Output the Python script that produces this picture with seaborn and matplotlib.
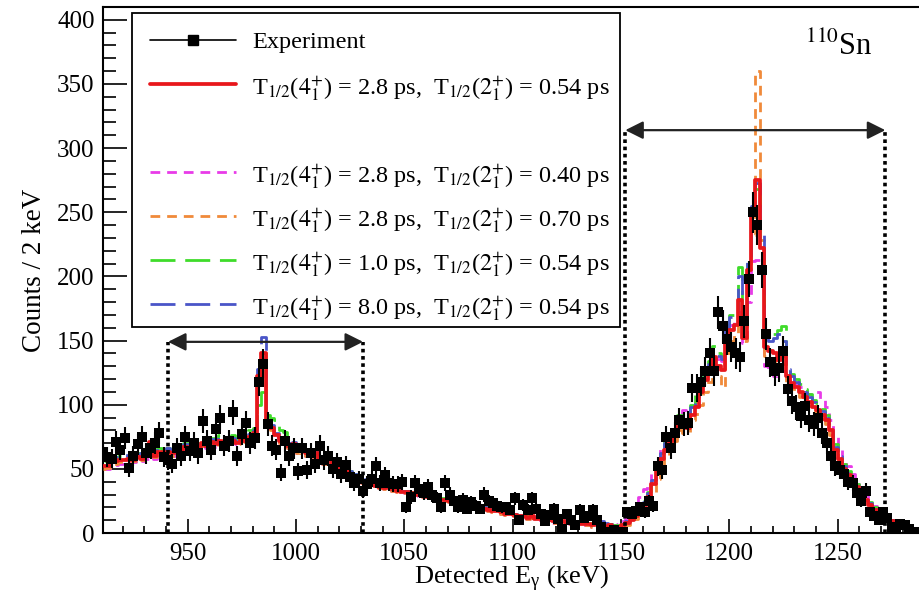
import numpy as np
import pandas as pd
import matplotlib
matplotlib.use("Agg")
import matplotlib.pyplot as plt
import seaborn as sns
from matplotlib.lines import Line2D
from matplotlib.patches import Rectangle

# ---------------- data (2 keV bins, first bin starts at 910 keV) ----------------
bin_start = 910
bin_width = 2

experiment = [
    63, 59, 58, 71, 65, 74, 51, 60, 69, 75,
    62, 66, 70, 78, 59, 57, 54, 66, 60, 75,
    64, 70, 62, 87, 72, 65, 81, 90, 68, 72,
    94, 60, 77, 86, 70, 74, 118, 132, 85, 68,
    65, 47, 72, 60, 66, 48, 66, 49, 62, 54,
    68, 57, 60, 50, 55, 46, 53, 44, 39, 42,
    33, 38, 42, 52, 39, 45, 39, 38, 38, 40,
    20, 28, 39, 34, 31, 36, 30, 27, 20, 39,
    30, 25, 20, 26, 19, 24, 21, 19, 30, 25,
    23, 21, 20, 20, 18, 27, 10, 22, 18, 27,
    19, 15, 9, 14, 19, 11, 3, 15, 10, 6,
    18, 12, 13, 18, 10, 5, 1, 1, 2, 1,
    1, 16, 15, 17, 20, 16, 25, 21, 52, 49,
    75, 66, 78, 88, 85, 86, 113, 113, 118, 126,
    140, 126, 172, 161, 151, 145, 140, 137, 165, 198,
    250, 240, 205, 155, 133, 126, 129, 142, 112, 103,
    98, 91, 99, 88, 85, 90, 78, 70, 60, 52,
    49, 46, 40, 39, 31, 25, 33, 16, 13, 10,
    16, 12, 4, 5, 7, 6, 3, 1, 1,
]

sim_28_054 = [
    52, 52, 55, 56, 57, 57, 58, 57, 59, 58,
    60, 71, 60, 63, 58, 63, 62, 66, 64, 67,
    66, 68, 67, 70, 68, 71, 69, 72, 70, 71,
    72, 70, 73, 72, 75, 78, 122, 140, 86, 82,
    76, 72, 74, 68, 69, 64, 66, 62, 60, 62,
    57, 56, 58, 52, 53, 49, 50, 46, 44, 42,
    40, 38, 39, 37, 36, 35, 36, 34, 33, 32,
    32, 31, 30, 31, 29, 28, 28, 27, 26, 26,
    25, 24, 23, 22, 22, 21, 20, 20, 19, 18,
    17, 17, 16, 15, 15, 14, 13, 13, 12, 13,
    11, 11, 10, 10, 9, 9, 9, 8, 8, 8,
    7, 7, 7, 6, 7, 6, 5, 6, 5, 5,
    6, 8, 10, 13, 17, 22, 28, 38, 49, 58,
    65, 72, 76, 86, 83, 82, 92, 98, 110, 119,
    125, 137, 130, 127, 150, 158, 162, 182, 152, 205,
    248, 275, 222, 145, 142, 140, 135, 138, 122, 117,
    114, 110, 106, 102, 98, 96, 92, 88, 80, 65,
    58, 50, 45, 40, 36, 31, 26, 22, 18, 15,
    13, 11, 9, 8, 6, 5, 4, 3, 2,
]

sim_28_040 = [
    50, 50, 52, 53, 54, 55, 56, 55, 57, 56,
    58, 66, 58, 61, 57, 61, 60, 64, 62, 65,
    64, 66, 65, 68, 66, 69, 67, 70, 68, 70,
    71, 69, 72, 72, 74, 77, 118, 136, 80, 82,
    75, 70, 72, 66, 67, 62, 64, 60, 58, 60,
    55, 54, 56, 50, 51, 47, 48, 45, 43, 41,
    39, 37, 38, 36, 35, 34, 35, 33, 32, 31,
    31, 30, 29, 30, 28, 27, 27, 26, 25, 25,
    24, 23, 22, 21, 21, 20, 19, 19, 18, 17,
    16, 16, 15, 14, 14, 13, 12, 12, 11, 12,
    10, 10, 9, 9, 8, 8, 8, 7, 7, 7,
    6, 6, 6, 5, 6, 5, 5, 6, 6, 7,
    9, 12, 16, 21, 28, 34, 40, 48, 58, 66,
    72, 78, 84, 92, 96, 90, 98, 105, 115, 124,
    130, 140, 136, 134, 152, 162, 165, 172, 148, 180,
    212, 213, 205, 130, 125, 122, 128, 126, 120, 117,
    116, 114, 110, 108, 109, 110, 104, 98, 88, 76,
    68, 58, 52, 46, 41, 36, 31, 26, 21, 17,
    14, 12, 10, 8, 7, 5, 4, 3, 2,
]

sim_28_070 = [
    50, 51, 53, 54, 55, 56, 57, 56, 58, 57,
    59, 68, 59, 62, 57, 61, 60, 64, 62, 65,
    64, 66, 65, 68, 66, 69, 67, 70, 68, 70,
    71, 69, 72, 71, 74, 77, 120, 140, 82, 80,
    74, 70, 72, 66, 67, 62, 64, 60, 58, 60,
    55, 54, 56, 50, 52, 48, 49, 45, 43, 41,
    39, 37, 38, 36, 35, 34, 35, 33, 32, 31,
    31, 30, 29, 30, 28, 27, 27, 26, 25, 25,
    24, 23, 22, 21, 21, 20, 19, 19, 18, 17,
    16, 16, 15, 14, 14, 13, 12, 12, 11, 12,
    10, 10, 9, 9, 8, 8, 8, 7, 7, 7,
    6, 6, 6, 5, 6, 5, 5, 6, 5, 5,
    5, 6, 8, 11, 14, 19, 24, 32, 42, 52,
    60, 66, 72, 80, 78, 78, 88, 93, 100, 110,
    118, 128, 122, 114, 140, 150, 155, 170, 150, 205,
    232, 360, 228, 138, 135, 134, 130, 132, 118, 113,
    110, 106, 102, 99, 95, 93, 89, 85, 76, 62,
    55, 47, 42, 37, 33, 28, 24, 20, 16, 13,
    11, 9, 8, 6, 5, 4, 3, 2, 2,
]

sim_10_054 = [
    58, 56, 58, 59, 60, 60, 61, 60, 62, 61,
    62, 68, 63, 66, 61, 66, 65, 69, 67, 70,
    69, 71, 70, 74, 72, 74, 73, 76, 74, 75,
    76, 74, 77, 78, 80, 82, 100, 110, 92, 90,
    88, 80, 79, 72, 72, 67, 69, 64, 62, 64,
    59, 58, 60, 54, 55, 51, 52, 48, 46, 44,
    41, 39, 40, 38, 37, 36, 37, 35, 34, 33,
    33, 32, 31, 32, 30, 29, 29, 28, 27, 27,
    26, 25, 24, 23, 23, 22, 21, 21, 20, 19,
    18, 18, 17, 16, 16, 15, 14, 14, 13, 13,
    12, 12, 11, 11, 10, 10, 10, 9, 9, 9,
    8, 8, 8, 7, 8, 7, 6, 7, 6, 6,
    7, 9, 12, 15, 20, 25, 32, 42, 53, 63,
    71, 78, 82, 92, 90, 90, 100, 108, 120, 128,
    134, 146, 140, 138, 162, 170, 175, 207, 165, 210,
    250, 268, 228, 158, 152, 155, 158, 161, 130, 124,
    120, 116, 112, 108, 104, 101, 97, 92, 84, 69,
    62, 54, 48, 43, 38, 33, 28, 24, 20, 16,
    14, 12, 10, 8, 7, 5, 4, 3, 2,
]

sim_80_054 = [
    62, 58, 60, 59, 60, 61, 60, 62, 61, 62,
    63, 70, 64, 66, 62, 66, 65, 68, 67, 69,
    68, 70, 69, 73, 71, 73, 72, 75, 73, 74,
    74, 72, 75, 74, 77, 80, 128, 153, 88, 84,
    78, 74, 76, 70, 71, 66, 68, 64, 62, 63,
    59, 58, 59, 54, 55, 51, 52, 48, 46, 44,
    42, 40, 40, 38, 37, 36, 37, 35, 34, 33,
    33, 32, 31, 31, 30, 29, 29, 28, 27, 27,
    26, 25, 24, 23, 23, 22, 21, 21, 20, 19,
    18, 18, 17, 16, 16, 15, 14, 14, 13, 13,
    12, 12, 11, 11, 10, 10, 10, 9, 9, 9,
    8, 8, 8, 7, 8, 9, 8, 7, 6, 6,
    7, 9, 11, 15, 19, 24, 31, 41, 52, 62,
    70, 76, 80, 90, 88, 88, 98, 106, 118, 126,
    132, 142, 138, 136, 160, 168, 172, 200, 160, 212,
    255, 273, 234, 155, 150, 152, 155, 150, 128, 122,
    118, 114, 110, 106, 102, 99, 95, 90, 82, 67,
    60, 52, 47, 42, 37, 32, 27, 23, 19, 16,
    14, 12, 10, 8, 7, 5, 4, 3, 2,
]

model_names = ["2.8/0.54", "2.8/0.40", "2.8/0.70", "1.0/0.54", "8.0/0.54"]
model_labels = [
    r"T$_{1/2}$($4^{+}_{1}$) = 2.8 ps,  T$_{1/2}$($2^{+}_{1}$) = 0.54 ps",
    r"T$_{1/2}$($4^{+}_{1}$) = 2.8 ps,  T$_{1/2}$($2^{+}_{1}$) = 0.40 ps",
    r"T$_{1/2}$($4^{+}_{1}$) = 2.8 ps,  T$_{1/2}$($2^{+}_{1}$) = 0.70 ps",
    r"T$_{1/2}$($4^{+}_{1}$) = 1.0 ps,  T$_{1/2}$($2^{+}_{1}$) = 0.54 ps",
    r"T$_{1/2}$($4^{+}_{1}$) = 8.0 ps,  T$_{1/2}$($2^{+}_{1}$) = 0.54 ps",
]
model_values = [sim_28_054, sim_28_040, sim_28_070, sim_10_054, sim_80_054]

gate_low = (941, 1031)
gate_high = (1152, 1272)
x_ticks = [950, 1000, 1050, 1100, 1150, 1200, 1250]
y_ticks = [0, 50, 100, 150, 200, 250, 300, 350, 400]

# ---------------- tables ----------------
n_bins = len(experiment)
energy = bin_start + bin_width * (np.arange(n_bins) + 0.5)
exp_df = pd.DataFrame({"energy": energy, "counts": experiment})
sim_df = pd.concat(
    [pd.DataFrame({"energy": energy, "counts": v, "model": m})
     for m, v in zip(model_names, model_values)],
    ignore_index=True,
)

# ---------------- style ----------------
sns.set_theme(style="ticks")
plt.rcParams["font.family"] = ["Liberation Serif", "DejaVu Serif"]
plt.rcParams["mathtext.fontset"] = "stix"

colors = {
    "2.8/0.54": "#e8161b",
    "2.8/0.40": "#e83be8",
    "2.8/0.70": "#f08a3a",
    "1.0/0.54": "#3fdc2a",
    "8.0/0.54": "#4a55c8",
}
styles = {
    "2.8/0.54": "-",
    "2.8/0.40": (0, (3.5, 2.5)),
    "2.8/0.70": (0, (3.5, 2.5)),
    "1.0/0.54": (0, (9, 3.5)),
    "8.0/0.54": (0, (9, 3.5)),
}
widths = {"2.8/0.54": 2.7, "2.8/0.40": 2.0, "2.8/0.70": 2.0, "1.0/0.54": 2.0, "8.0/0.54": 2.0}

W, H = 920, 594
fig = plt.figure(figsize=(W / 100, H / 100), dpi=100)
ax_l, ax_r, ax_t, ax_b = 103, 920, 7, 533
ax = fig.add_axes([ax_l / W, 1 - ax_b / H, (ax_r - ax_l) / W, (ax_b - ax_t) / H])

draw_order = ["2.8/0.40", "2.8/0.70", "1.0/0.54", "8.0/0.54", "2.8/0.54"]
for z, m in enumerate(draw_order):
    sub = sim_df[sim_df["model"] == m]
    sns.lineplot(data=sub, x="energy", y="counts", ax=ax, color=colors[m],
                 linestyle=styles[m], linewidth=widths[m], drawstyle="steps-mid",
                 estimator=None, sort=False, zorder=2 + z)

ax.errorbar(exp_df["energy"], exp_df["counts"], yerr=np.sqrt(exp_df["counts"]),
            fmt="none", ecolor="black", elinewidth=1.5, capsize=0, zorder=10)
sns.scatterplot(data=exp_df, x="energy", y="counts", ax=ax, marker="s", s=55,
                color="black", edgecolor="black", linewidth=0, zorder=11)

# gates
arrow_y = {gate_low: 149, gate_high: 314}
for g in (gate_low, gate_high):
    yv = arrow_y[g]
    for xv in g:
        ax.plot([xv, xv], [0, yv], color="black", linestyle=(0, (1, 1)), linewidth=2.6, zorder=12)
    ax.annotate("", xy=(g[0], yv), xytext=(g[1], yv),
                arrowprops=dict(arrowstyle="<|-|>", color="#222222", lw=1.6,
                                mutation_scale=27, shrinkA=0, shrinkB=0),
                zorder=12)

# axes
ax.set_xlim(911, 1288)
ax.set_ylim(0, 410)
ax.set_xticks(x_ticks)
ax.set_yticks(y_ticks)
ax.set_xticks(np.arange(920, 1290, 10), minor=True)
ax.set_yticks(np.arange(0, 410, 10), minor=True)
ax.tick_params(axis="both", which="both", direction="in", colors="black", labelsize=18, width=1.2)
ax.tick_params(axis="y", which="major", length=17, pad=6)
ax.tick_params(axis="y", which="minor", length=9)
ax.tick_params(axis="x", which="major", length=10, pad=7)
ax.tick_params(axis="x", which="minor", length=5)
for s in ["left", "bottom", "top"]:
    ax.spines[s].set_color("black")
    ax.spines[s].set_linewidth(1.5)
ax.spines["right"].set_visible(False)
ax.set_xlabel(r"Detected E$_{\mathregular{γ}}$ (keV)", fontsize=19, labelpad=-0.5, color="black")
ax.set_ylabel("Counts / 2 keV", fontsize=19.5, labelpad=7, color="black")
ax.grid(False)

# legend (drawn manually to match the original box)
def ax_xy(px, py):
    return (px - ax_l) / (ax_r - ax_l), (ax_b - py) / (ax_b - ax_t)

bx0, by0 = ax_xy(132, 327)
bx1, by1 = ax_xy(620, 13)
ax.add_patch(Rectangle((bx0, by0), bx1 - bx0, by1 - by0, transform=ax.transAxes,
                       facecolor="white", edgecolor="black", linewidth=1.3, zorder=20))
rows = [("Experiment", None), (model_labels[0], "2.8/0.54"), (None, None),
        (model_labels[1], "2.8/0.40"), (model_labels[2], "2.8/0.70"),
        (model_labels[3], "1.0/0.54"), (model_labels[4], "8.0/0.54")]
for i, (lab, m) in enumerate(rows):
    py = 40 + 44 * i
    if lab is None:
        continue
    x0, y0 = ax_xy(150, py)
    x1, _ = ax_xy(236, py)
    if m is None:
        ax.add_line(Line2D([x0, x1], [y0, y0], transform=ax.transAxes, color="black",
                           linewidth=1.2, zorder=21))
        ax.add_line(Line2D([(x0 + x1) / 2], [y0], transform=ax.transAxes, color="black",
                           marker="s", markersize=6.5, linestyle="none", zorder=22))
    else:
        ax.add_line(Line2D([x0, x1], [y0, y0], transform=ax.transAxes, color=colors[m],
                           linestyle=styles[m], linewidth=widths[m], zorder=21))
    tx, _ = ax_xy(252, py)
    ax.text(tx, y0, lab, transform=ax.transAxes, fontsize=17.5, ha="left",
            va="center_baseline", color="black", zorder=22)

fig.text(805 / W, 1 - 55 / H, r"$^{110}$Sn", fontsize=22, ha="left", va="baseline", color="black")

fig.savefig("out.png", dpi=100)
